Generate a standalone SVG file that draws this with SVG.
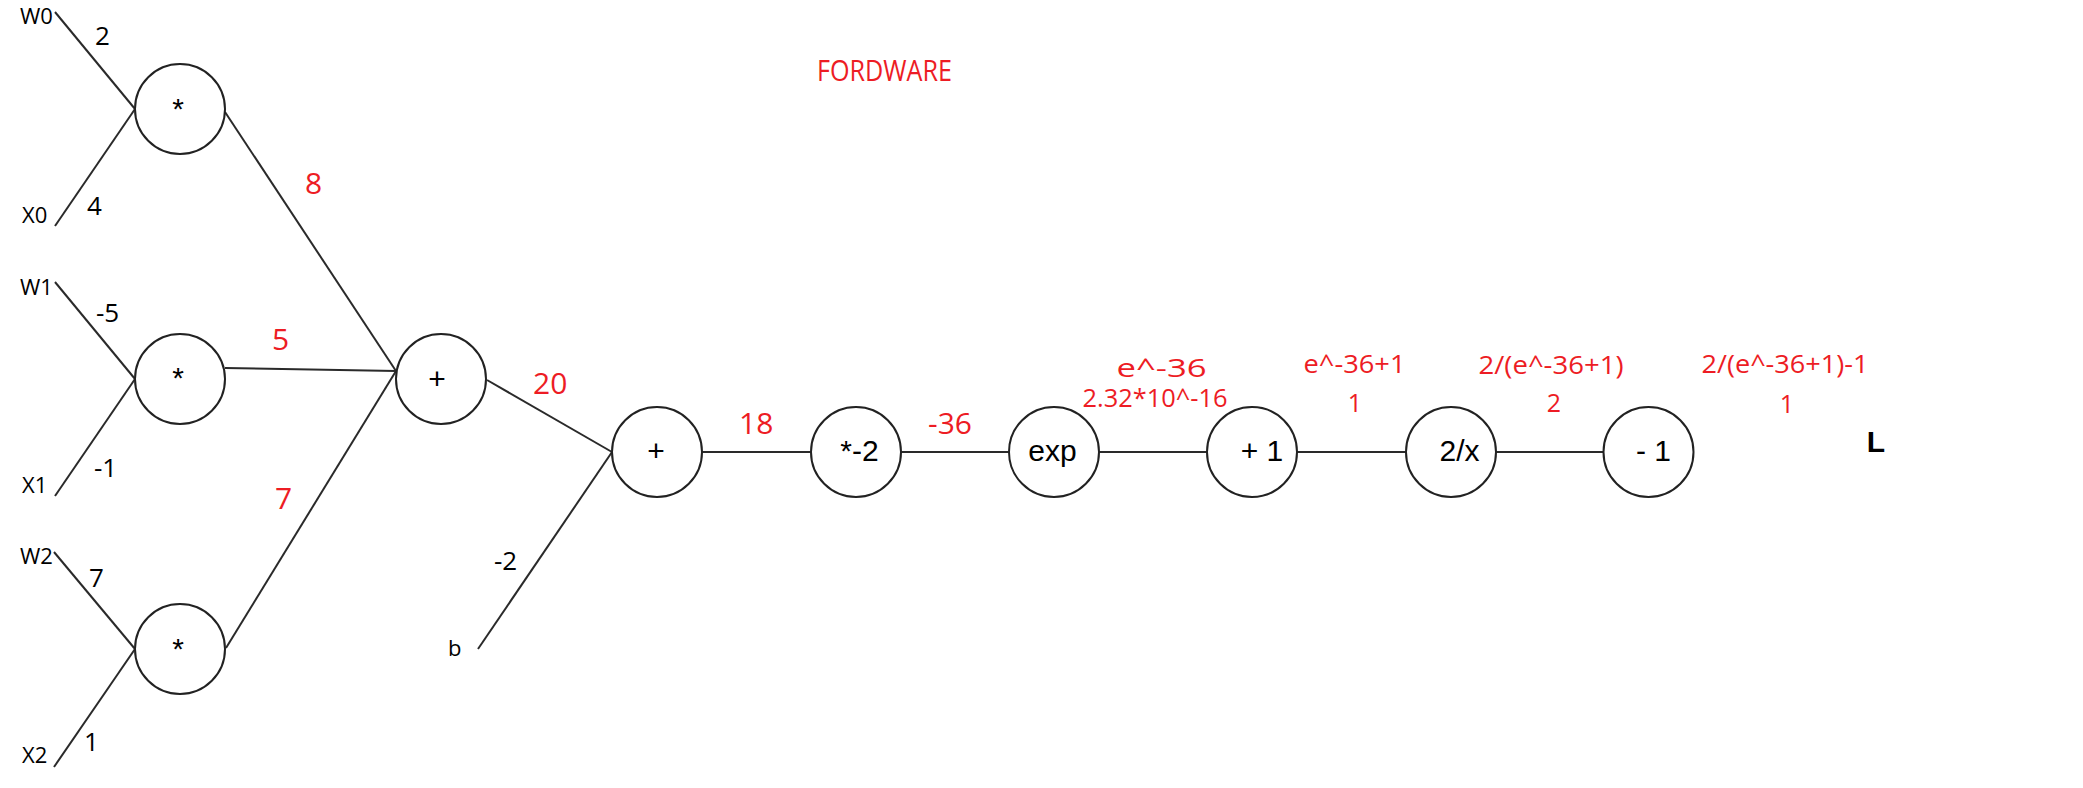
<svg xmlns="http://www.w3.org/2000/svg" width="2083" height="788" viewBox="0 0 2083 788">
<style>
.bg{fill:#fff}
.n{fill:#fff;stroke:#222;stroke-width:2}
.e{stroke:#2a2a2a;stroke-width:2;fill:none}
.op{font-family:"Liberation Sans",Arial,sans-serif;font-size:30px;fill:#000;text-anchor:middle}
.lb{font-family:"Open Sans","Noto Sans",sans-serif;font-size:22px;fill:#000}
.v{font-family:"Open Sans","Noto Sans",sans-serif;font-size:26px;fill:#000}
.r{font-family:"Open Sans","Noto Sans",sans-serif;font-size:30px;fill:#ED1C24}
.rs{font-family:"Open Sans","Noto Sans",sans-serif;font-size:25px;fill:#ED1C24;text-anchor:middle}
</style>
<rect class="bg" x="0" y="0" width="2083" height="788"/>
<text class="r" x="884.5" y="81" font-size="25" text-anchor="middle" textLength="135" lengthAdjust="spacingAndGlyphs">FORDWARE</text>
<g id="connectors">
<line class="e" x1="55" y1="12" x2="135" y2="109"/>
<line class="e" x1="55" y1="226" x2="135" y2="109"/>
<line class="e" x1="55" y1="282" x2="135" y2="379"/>
<line class="e" x1="55" y1="496" x2="135" y2="379"/>
<line class="e" x1="54" y1="552" x2="135" y2="649"/>
<line class="e" x1="54" y1="767" x2="135" y2="649"/>
<line class="e" x1="225" y1="112" x2="396" y2="371"/>
<line class="e" x1="225" y1="368" x2="396" y2="371"/>
<line class="e" x1="226" y1="648" x2="396" y2="371"/>
<line class="e" x1="487" y1="380" x2="612" y2="452"/>
<line class="e" x1="478" y1="649" x2="612" y2="452"/>
<line class="e" x1="702" y1="452" x2="811" y2="452"/>
<line class="e" x1="901" y1="452" x2="1009" y2="452"/>
<line class="e" x1="1099" y1="452" x2="1207" y2="452"/>
<line class="e" x1="1297" y1="452" x2="1406" y2="452"/>
<line class="e" x1="1496" y1="452" x2="1604" y2="452"/>
</g>
<g id="edge-labels">
<text class="lb" x="20" y="24">W0</text>
<text class="lb" x="22" y="223">X0</text>
<text class="lb" x="20" y="295">W1</text>
<text class="lb" x="22" y="493">X1</text>
<text class="lb" x="20" y="564">W2</text>
<text class="lb" x="22" y="763">X2</text>
<text class="lb" x="448" y="656">b</text>
<text class="v" x="95" y="45">2</text>
<text class="v" x="87" y="215">4</text>
<text class="v" x="96" y="322">-5</text>
<text class="v" x="94" y="477">-1</text>
<text class="v" x="89" y="587">7</text>
<text class="v" x="84" y="751">1</text>
<text class="v" x="494" y="570">-2</text>
<text class="r" x="305" y="194">8</text>
<text class="r" x="272" y="350">5</text>
<text class="r" x="275" y="509">7</text>
<text class="r" x="533" y="394">20</text>
<text class="r" x="739" y="434">18</text>
<text class="r" x="928" y="434">-36</text>
<text class="rs" x="1161.5" y="377" font-size="31" textLength="90" lengthAdjust="spacingAndGlyphs">e^-36</text>
<text class="rs" x="1155" y="407" textLength="145" lengthAdjust="spacingAndGlyphs">2.32*10^-16</text>
<text class="rs" x="1354.5" y="373" textLength="102" lengthAdjust="spacingAndGlyphs">e^-36+1</text>
<text class="rs" x="1355" y="412">1</text>
<text class="rs" x="1551" y="374" textLength="145" lengthAdjust="spacingAndGlyphs">2/(e^-36+1)</text>
<text class="rs" x="1554" y="412">2</text>
<text class="rs" x="1785" y="373" textLength="167" lengthAdjust="spacingAndGlyphs">2/(e^-36+1)-1</text>
<text class="rs" x="1787" y="413">1</text>
</g>
<g id="mul0"><circle class="n" cx="180" cy="109" r="45"/><text class="op" x="178" y="119">*</text></g>
<g id="mul1"><circle class="n" cx="180" cy="379" r="45"/><text class="op" x="178" y="388">*</text></g>
<g id="mul2"><circle class="n" cx="180" cy="649" r="45"/><text class="op" x="178" y="659">*</text></g>
<g id="add1"><circle class="n" cx="441" cy="379" r="45"/><text class="op" x="437" y="389">+</text></g>
<g id="add2"><circle class="n" cx="657" cy="452" r="45"/><text class="op" x="656" y="461">+</text></g>
<g id="mulneg2"><circle class="n" cx="856" cy="452" r="45"/><text class="op" x="859.5" y="461">*-2</text></g>
<g id="exp"><circle class="n" cx="1054" cy="452" r="45"/><text class="op" x="1052.5" y="461">exp</text></g>
<g id="plus1"><circle class="n" cx="1252" cy="452" r="45"/><text class="op" x="1262" y="461">+ 1</text></g>
<g id="div"><circle class="n" cx="1451" cy="452" r="45"/><text class="op" x="1459.5" y="461">2/x</text></g>
<g id="minus1"><circle class="n" cx="1648.5" cy="452" r="45"/><text class="op" x="1653.5" y="461">- 1</text></g>
<g id="L"><text class="op" x="1876" y="452" font-weight="bold" text-anchor="start">L</text></g>
</svg>
